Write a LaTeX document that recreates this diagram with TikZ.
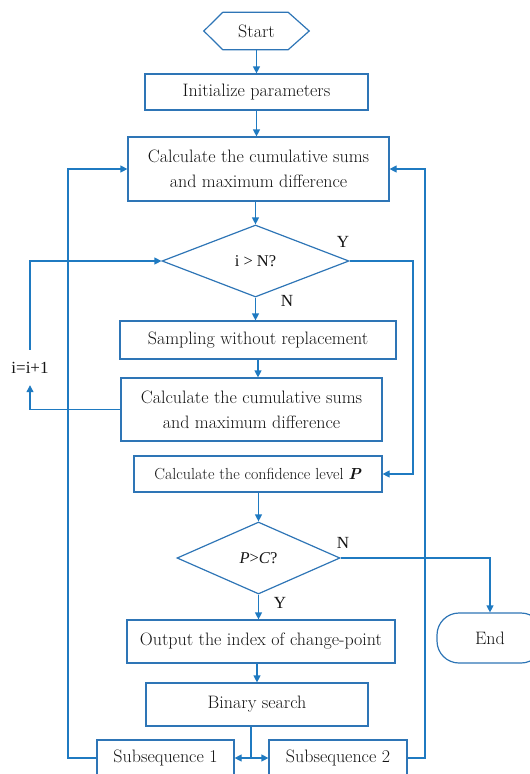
\documentclass[tikz,border=0pt]{standalone}
\usepackage{fontspec}
\newfontfamily\timesfont{Liberation Serif}
\usetikzlibrary{shapes.geometric,arrows.meta}
\definecolor{lineblue}{RGB}{31,122,193}
\definecolor{boxblue}{RGB}{46,117,182}
\definecolor{ink}{RGB}{20,20,20}
\tikzset{
  txt/.style={font=\fontsize{18}{25}\selectfont,text=ink},
  box/.style={txt,draw=boxblue,line width=1.2pt,rectangle,inner sep=0pt,align=center},
  dec/.style={draw=boxblue,line width=1.2pt,diamond,inner sep=0pt,align=center,text=ink,font=\timesfont\fontsize{16.5}{20}\selectfont},
  flow/.style={draw=lineblue,line width=1.2pt,-{Triangle[length=7pt,width=7pt]}},
  link/.style={draw=lineblue,line width=1.2pt},
  lbl/.style={text=ink,font=\timesfont\fontsize{17}{20}\selectfont,inner sep=0pt}
}
\begin{document}
\begin{tikzpicture}[x=1pt,y=-1pt]
\useasboundingbox (0,0) rectangle (530,774);
\clip (0,0) rectangle (530,774);
% nodes
\node[txt,minimum width=105pt,minimum height=37pt,inner sep=0pt] (start) at (256.5,31) {Start};
\draw[boxblue,line width=1.2pt] (start.west) -- ([xshift=19pt]start.north west) -- ([xshift=-21pt]start.north east) -- (start.east) -- ([xshift=-21pt]start.south east) -- ([xshift=19pt]start.south west) -- cycle;
\node[box,minimum width=223pt,minimum height=36pt] (init) at (256.5,92) {Initialize parameters};
\node[box,minimum width=261pt,minimum height=64pt] (calc1) at (258.5,169) {Calculate the cumulative sums\\and maximum difference};
\node[dec,minimum width=187pt,minimum height=72pt] (dec1) at (255.5,261) {i > N?};
\node[box,minimum width=276pt,minimum height=38pt] (samp) at (258,340) {Sampling without replacement};
\node[box,minimum width=261pt,minimum height=63pt] (calc2) at (251.5,409.5) {Calculate the cumulative sums\\and maximum difference};
\node[box,minimum width=248pt,minimum height=36pt,font=\fontsize{16}{20}\selectfont] (conf) at (258,474) {Calculate the confidence level \textbf{\textit{P}}};
\node[dec,minimum width=163pt,minimum height=72pt] (dec2) at (258.5,558) {\textit{P}>\textit{C}?};
\node[box,minimum width=268pt,minimum height=43pt] (out) at (261,641.5) {Output the index of change-point};
\node[box,minimum width=222pt,minimum height=43pt] (bin) at (257,704.5) {Binary search};
\node[box,minimum width=137pt,minimum height=36pt] (sub1) at (165.5,758) {Subsequence 1};
\node[box,minimum width=138pt,minimum height=36pt] (sub2) at (338,758) {Subsequence 2};
\node[box,rounded corners=22pt,minimum width=106pt,minimum height=50pt] (end) at (490,638) {End};
\node[lbl,minimum height=35pt] (inc) at (30,367.5) {i=i+1};
% labels
\node[lbl] (yl1) at (343,242) {Y};
\node[lbl] (nl1) at (287,301) {N};
\node[lbl] (nl2) at (343,543) {N};
\node[lbl] (yl2) at (280,603) {Y};
\coordinate (split) at (251,758);
% connectors
\draw[flow] (start) -- (init);
\draw[flow] (init) -- (init |- calc1.north);
\draw[flow] (dec1 |- calc1.south) -- (dec1.north);
\draw[flow] (dec1.south) -- (dec1.south |- samp.north);
\draw[flow] (samp.south) -- (samp.south |- calc2.north);
\draw[flow] (calc2.west) -| (inc.south);
\draw[flow] (inc.north) |- (dec1.west);
\draw[flow] (dec1.east) -| (413,474) -- (conf.east);
\draw[flow] (dec2 |- conf.south) -- (dec2.north);
\draw[flow] (dec2.east) -| (end.north);
\draw[flow] (dec2.south) -- (dec2.south |- out.north);
\draw[flow] (bin.north |- out.south) -- (bin.north);
\draw[link] (split |- bin.south) -- (split);
\draw[flow] (split) -- (sub1.east);
\draw[flow] (split) -- (sub2.west);
\draw[flow] (sub1.west) -| (68,169) -- (calc1.west);
\draw[flow] (sub2.east) -| (425,169) -- (calc1.east);
\end{tikzpicture}
\end{document}
